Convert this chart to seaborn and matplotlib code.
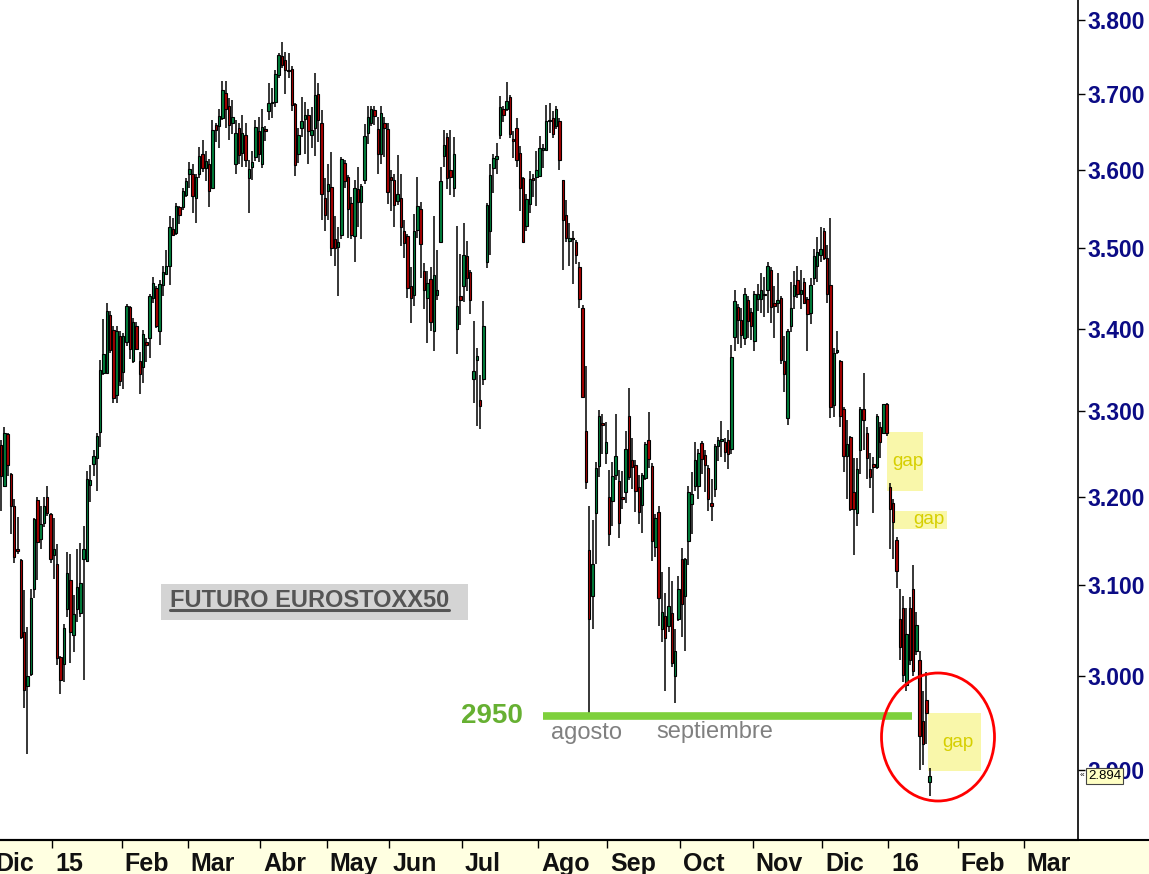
import numpy as np
import pandas as pd
import matplotlib
matplotlib.use("Agg")
import matplotlib.pyplot as plt
import matplotlib.transforms as mtransforms
from matplotlib.patches import Rectangle, Ellipse
from matplotlib.lines import Line2D
from matplotlib.ticker import FixedLocator, NullLocator, FuncFormatter
import seaborn as sns

sns.set_theme(style="white")
plt.rcParams['font.family'] = ['Liberation Sans', 'DejaVu Sans']

# daily candles, Dec 2014 -> Jan 2016
opens = [3260, 3213, 3273, 3226, 3190, 3140, 3128, 3048, 2989, 3002,
         3095, 3196, 3152, 3170, 3200, 3180, 3134, 3124, 3021, 3013,
         3073, 3106, 3045, 3073, 3069, 3129, 3127, 3214, 3238, 3245,
         3276, 3346, 3346, 3417, 3398, 3319, 3391, 3347, 3383, 3426,
         3361, 3403, 3361, 3353, 3384, 3388, 3438, 3450, 3397, 3454,
         3467, 3477, 3524, 3519, 3552, 3552, 3567, 3594, 3595, 3563,
         3595, 3621, 3602, 3607, 3577, 3658, 3657, 3668, 3701, 3684,
         3661, 3608, 3655, 3622, 3646, 3589, 3603, 3616, 3651, 3608,
         3653, 3677, 3687, 3689, 3725, 3750, 3745, 3731, 3733, 3686,
         3620, 3655, 3667, 3672, 3645, 3655, 3700, 3661, 3564, 3573,
         3578, 3512, 3501, 3517, 3609, 3591, 3557, 3515, 3575, 3559,
         3587, 3648, 3661, 3679, 3653, 3621, 3661, 3653, 3591, 3587,
         3560, 3564, 3522, 3515, 3452, 3441, 3523, 3550, 3471, 3438,
         3461, 3397, 3441, 3507, 3618, 3643, 3600, 3577, 3400, 3440,
         3452, 3490, 3470, 3339, 3362, 3313, 3339, 3483, 3521, 3602,
         3614, 3646, 3680, 3680, 3696, 3639, 3654, 3622, 3590, 3528,
         3556, 3589, 3591, 3592, 3626, 3626, 3664, 3668, 3657, 3664,
         3587, 3542, 3509, 3512, 3507, 3476, 3425, 3277, 3139, 3088,
         3181, 3236, 3286, 3251, 3200, 3195, 3225, 3218, 3199, 3206,
         3295, 3243, 3237, 3211, 3191, 3222, 3266, 3236, 3143, 3183,
         3051, 3066, 3055, 3069, 3000, 3062, 3129, 3088, 3150, 3192,
         3213, 3213, 3263, 3249, 3233, 3193, 3209, 3259, 3265, 3264,
         3266, 3256, 3390, 3426, 3410, 3388, 3435, 3420, 3385, 3436,
         3436, 3442, 3447, 3473, 3431, 3431, 3438, 3360, 3292, 3403,
         3440, 3460, 3442, 3457, 3436, 3419, 3462, 3477, 3491, 3521,
         3487, 3454, 3308, 3371, 3360, 3303, 3247, 3270, 3206, 3181,
         3255, 3303, 3275, 3232, 3238, 3234, 3281, 3275, 3309, 3211,
         3193, 3151, 3062, 3074, 2990, 3074, 3095, 3027, 3017, 2952,
         2974, 2888]
highs = [3266, 3282, 3275, 3228, 3198, 3177, 3129, 3094, 3053, 3096,
         3176, 3200, 3190, 3200, 3213, 3182, 3176, 3146, 3022, 3057,
         3137, 3135, 3089, 3141, 3147, 3167, 3230, 3237, 3254, 3275,
         3362, 3412, 3431, 3421, 3403, 3403, 3397, 3394, 3430, 3428,
         3413, 3408, 3371, 3398, 3389, 3442, 3464, 3452, 3460, 3478,
         3497, 3541, 3538, 3557, 3554, 3576, 3590, 3610, 3607, 3594,
         3630, 3639, 3624, 3614, 3665, 3661, 3680, 3717, 3717, 3694,
         3692, 3665, 3661, 3672, 3661, 3613, 3625, 3665, 3669, 3680,
         3657, 3714, 3708, 3732, 3754, 3770, 3756, 3754, 3737, 3688,
         3655, 3695, 3689, 3680, 3682, 3728, 3714, 3679, 3590, 3607,
         3623, 3541, 3526, 3617, 3613, 3593, 3565, 3587, 3604, 3582,
         3660, 3684, 3684, 3683, 3669, 3684, 3669, 3661, 3600, 3595,
         3619, 3594, 3535, 3518, 3476, 3543, 3591, 3559, 3481, 3471,
         3476, 3541, 3497, 3604, 3652, 3648, 3652, 3643, 3528, 3492,
         3532, 3509, 3472, 3409, 3376, 3343, 3434, 3557, 3608, 3620,
         3635, 3697, 3684, 3715, 3698, 3651, 3668, 3631, 3591, 3569,
         3599, 3594, 3625, 3644, 3634, 3685, 3687, 3677, 3683, 3668,
         3587, 3561, 3532, 3521, 3510, 3482, 3429, 3354, 3190, 3173,
         3240, 3302, 3297, 3288, 3231, 3240, 3297, 3231, 3230, 3277,
         3328, 3269, 3243, 3225, 3228, 3264, 3299, 3239, 3180, 3190,
         3115, 3091, 3120, 3104, 3051, 3110, 3142, 3130, 3213, 3229,
         3264, 3256, 3265, 3254, 3237, 3221, 3261, 3270, 3289, 3269,
         3278, 3380, 3448, 3430, 3425, 3450, 3440, 3425, 3446, 3455,
         3469, 3464, 3483, 3476, 3452, 3469, 3440, 3391, 3400, 3458,
         3471, 3478, 3473, 3462, 3439, 3462, 3499, 3514, 3527, 3525,
         3504, 3538, 3376, 3397, 3362, 3305, 3290, 3271, 3245, 3245,
         3305, 3346, 3281, 3251, 3246, 3297, 3287, 3309, 3310, 3216,
         3197, 3154, 3095, 3088, 3074, 3087, 3122, 3070, 3027, 2984,
         3004, 2902]
lows = [3184, 3211, 3224, 3158, 3125, 3135, 3040, 2966, 2917, 3000,
        3085, 3106, 3140, 3165, 3178, 3125, 3107, 3012, 2981, 2994,
        3065, 3014, 3026, 3059, 3065, 2996, 3126, 3194, 3224, 3207,
        3258, 3344, 3345, 3370, 3310, 3310, 3330, 3327, 3379, 3363,
        3358, 3374, 3321, 3334, 3359, 3364, 3431, 3401, 3380, 3440,
        3467, 3454, 3515, 3517, 3531, 3548, 3565, 3577, 3545, 3532,
        3590, 3597, 3586, 3552, 3577, 3636, 3628, 3665, 3655, 3639,
        3647, 3595, 3608, 3604, 3603, 3545, 3587, 3612, 3610, 3602,
        3638, 3665, 3668, 3682, 3721, 3734, 3700, 3721, 3677, 3592,
        3609, 3643, 3621, 3607, 3628, 3618, 3636, 3535, 3521, 3535,
        3490, 3478, 3440, 3512, 3577, 3513, 3511, 3482, 3527, 3511,
        3581, 3634, 3657, 3658, 3595, 3608, 3617, 3556, 3547, 3526,
        3555, 3503, 3488, 3437, 3407, 3428, 3513, 3463, 3424, 3382,
        3397, 3373, 3435, 3507, 3603, 3575, 3568, 3565, 3369, 3404,
        3432, 3446, 3418, 3310, 3283, 3279, 3332, 3475, 3491, 3570,
        3595, 3640, 3663, 3677, 3642, 3615, 3604, 3547, 3508, 3521,
        3544, 3565, 3554, 3592, 3602, 3626, 3648, 3642, 3653, 3600,
        3472, 3507, 3478, 3455, 3480, 3425, 3316, 3209, 2955, 3051,
        3123, 3223, 3250, 3238, 3144, 3167, 3219, 3153, 3186, 3193,
        3219, 3209, 3183, 3169, 3159, 3219, 3233, 3127, 3131, 3055,
        3037, 2984, 3048, 3010, 2971, 3060, 3043, 3027, 3122, 3158,
        3207, 3197, 3227, 3206, 3184, 3172, 3200, 3241, 3246, 3240,
        3232, 3250, 3373, 3381, 3376, 3380, 3388, 3386, 3373, 3421,
        3419, 3414, 3419, 3407, 3389, 3419, 3357, 3323, 3284, 3396,
        3424, 3437, 3424, 3430, 3372, 3405, 3454, 3457, 3483, 3485,
        3431, 3292, 3293, 3369, 3281, 3229, 3197, 3184, 3134, 3167,
        3227, 3254, 3221, 3210, 3182, 3232, 3245, 3273, 3271, 3140,
        3129, 3097, 3017, 2994, 2984, 3012, 3000, 3023, 2900, 2905,
        2927, 2873]
closes = [3224, 3274, 3237, 3190, 3131, 3138, 3042, 2985, 3000, 3086,
          3174, 3148, 3169, 3190, 3182, 3129, 3140, 3020, 2996, 3052,
          3113, 3048, 3068, 3098, 3102, 3141, 3221, 3220, 3247, 3271,
          3350, 3369, 3421, 3374, 3316, 3397, 3336, 3391, 3428, 3375,
          3408, 3375, 3345, 3393, 3380, 3440, 3456, 3403, 3455, 3470,
          3478, 3527, 3517, 3553, 3542, 3572, 3586, 3601, 3566, 3591,
          3618, 3602, 3612, 3572, 3652, 3652, 3671, 3705, 3680, 3658,
          3669, 3648, 3619, 3648, 3613, 3601, 3610, 3656, 3621, 3656,
          3651, 3687, 3688, 3727, 3752, 3739, 3732, 3730, 3685, 3606,
          3645, 3664, 3672, 3650, 3652, 3698, 3665, 3569, 3542, 3582,
          3500, 3500, 3508, 3614, 3586, 3550, 3516, 3577, 3558, 3579,
          3644, 3669, 3680, 3671, 3621, 3675, 3654, 3571, 3587, 3555,
          3569, 3526, 3506, 3450, 3437, 3522, 3553, 3505, 3447, 3456,
          3408, 3466, 3447, 3585, 3632, 3590, 3591, 3620, 3428, 3435,
          3491, 3462, 3435, 3348, 3366, 3306, 3403, 3555, 3593, 3615,
          3618, 3682, 3672, 3690, 3647, 3638, 3613, 3577, 3508, 3562,
          3588, 3587, 3600, 3628, 3628, 3664, 3665, 3647, 3680, 3613,
          3535, 3513, 3513, 3511, 3491, 3436, 3317, 3217, 3062, 3124,
          3233, 3295, 3284, 3264, 3158, 3224, 3248, 3170, 3198, 3256,
          3223, 3235, 3207, 3183, 3225, 3262, 3244, 3150, 3176, 3086,
          3070, 3041, 3077, 3014, 3027, 3096, 3079, 3129, 3206, 3203,
          3243, 3251, 3244, 3237, 3198, 3189, 3259, 3266, 3267, 3252,
          3250, 3365, 3434, 3411, 3392, 3442, 3409, 3403, 3442, 3442,
          3448, 3441, 3478, 3426, 3428, 3435, 3362, 3345, 3397, 3425,
          3454, 3442, 3447, 3431, 3418, 3454, 3490, 3495, 3499, 3487,
          3443, 3305, 3370, 3374, 3294, 3247, 3261, 3186, 3186, 3232,
          3303, 3290, 3245, 3223, 3234, 3294, 3264, 3309, 3274, 3186,
          3171, 3116, 3032, 3001, 3046, 3017, 3006, 3056, 2936, 2928,
          2960, 2894]

month_labels = ['Dic', '15', 'Feb', 'Mar', 'Abr', 'May', 'Jun', 'Jul', 'Ago',
                'Sep', 'Oct', 'Nov', 'Dic', '16', 'Feb', 'Mar']
month_first_bar = [-2, 16, 37, 57, 79, 99, 118, 140, 163, 184, 206, 228,
                   249, 269, 290, 310]
price_ticks = [2900, 3000, 3100, 3200, 3300, 3400, 3500, 3600, 3700, 3800]

support_level = 2957
support_bars = [164, 275.6]

gap_left = [268.1, 269.9, 280.5]
gap_right = [279.0, 286.2, 296.5]
gap_low = [3207, 3163, 2899]
gap_high = [3276, 3184, 2960]
gap_text_x = [274.4, 280.8, 289.6]

df = pd.DataFrame({'open': opens, 'high': highs, 'low': lows, 'close': closes})
df['bar'] = np.arange(len(df))
up = df['close'] >= df['open']

W, H = 1149, 874
fig = plt.figure(figsize=(W / 100, H / 100), dpi=100)
fig.patch.set_facecolor('white')
fig.add_artist(Rectangle((0, 0), 1, 33 / H, transform=fig.transFigure,
                         facecolor='#FFFFE1', edgecolor='none', zorder=0))
ax = fig.add_axes([0, 34 / H, 1078 / W, 840 / H])
ax.set_facecolor('white')
ax.set_yscale('log')

# candles
ax.vlines(df['bar'], df['low'], df['high'], color='black', lw=1.1, zorder=2)
body_lo = np.minimum(df['open'], df['close'])
body_h = np.maximum(np.abs(df['close'] - df['open']), 1.5)
ax.bar(df['bar'], body_h, bottom=body_lo, width=0.74,
       color=np.where(up, '#00803C', '#A80000'), edgecolor='black',
       linewidth=0.8, zorder=3)

# support line at the August low
sup = pd.DataFrame({'bar': support_bars, 'price': [support_level] * 2})
sns.lineplot(data=sup, x='bar', y='price', color='#7ED03C', lw=5.5,
             solid_capstyle='butt', ax=ax, zorder=4)
ax.text(157.9, support_level, '2950', ha='right', va='center', fontsize=20,
        fontweight='bold', color='#66B032')
ax.text(166.4, 2939, 'agosto', ha='left', va='center', fontsize=17, color='#808080')
ax.text(198.2, 2940, 'septiembre', ha='left', va='center', fontsize=17, color='#808080')

# gap boxes
for l, r, lo, hi, tx in zip(gap_left, gap_right, gap_low, gap_high, gap_text_x):
    ax.add_patch(Rectangle((l, lo), r - l, hi - lo, facecolor='#F9F7AA',
                           edgecolor='none', zorder=1))
    ax.text(tx, np.sqrt(lo * hi), 'gap', ha='center', va='center',
            fontsize=13.5, color='#D6CF00', zorder=5)

# title box
ax.add_patch(Rectangle((48.4, 3061), 92.9, 40, facecolor='#D4D4D4',
                       edgecolor='none', zorder=1))
title = ax.text(51.1, 3083, 'FUTURO EUROSTOXX50', ha='left', va='center',
                fontsize=17, fontweight='bold', color='#555555', zorder=5)

# axes formatting
ax.set_xlabel('')
ax.set_ylabel('')
ax.yaxis.tick_right()
ax.yaxis.set_major_locator(FixedLocator(price_ticks))
ax.yaxis.set_minor_locator(NullLocator())
ax.yaxis.set_major_formatter(FuncFormatter(lambda v, p: f"{v / 1000:.3f}"))
ax.tick_params(axis='y', which='major', right=True, left=False, length=5,
               width=1, color='black', direction='out', pad=2,
               labelsize=16.5, labelcolor='#0B0B85')
for lab in ax.get_yticklabels():
    lab.set_fontweight('bold')
ax.set_xticks([b - 0.5 for b in month_first_bar])
ax.tick_params(axis='x', which='major', bottom=True, length=6, width=1,
               color='black', direction='out', labelbottom=False)
# limits after set_xticks (which widens the view)
ax.set_xlim(-0.3, 325.9)
ax.set_ylim(2828, 3827)
ax.grid(False)
for s in ['top', 'left']:
    ax.spines[s].set_visible(False)
ax.spines['right'].set_color('black')
ax.spines['right'].set_linewidth(1.2)
ax.spines['bottom'].set_color('black')
ax.spines['bottom'].set_linewidth(1.5)
fig.add_artist(Line2D([0, 1], [34 / H, 34 / H], transform=fig.transFigure,
                      color='black', lw=1.5))

# month labels, left-aligned just right of each tick
lab_tr = (mtransforms.blended_transform_factory(ax.transData, fig.transFigure)
          + mtransforms.ScaledTranslation(3 / 100, 0, fig.dpi_scale_trans))
for b, lab in zip(month_first_bar, month_labels):
    ax.text(b - 0.5, 3 / H, lab, transform=lab_tr, ha='left', va='baseline',
            fontsize=18, fontweight='bold', color='#111111', clip_on=False)

# last price marker
tr = mtransforms.blended_transform_factory(fig.transFigure, ax.transData)
fig.text(1088 / W, closes[-1], f"{closes[-1] / 1000:.3f}", transform=tr,
         ha='left', va='center', fontsize=9.5, color='black', zorder=10,
         bbox=dict(boxstyle='square,pad=0.12', fc='#FFFFC4', ec='#444444', lw=0.8))
fig.text(1080 / W, closes[-1], '\u00ab', transform=tr, ha='left', va='center',
         fontsize=6, color='black', zorder=10)

# red circle around the last gap
fig.add_artist(Ellipse((938 / W, 1 - 737 / H), 113 / W, 128 / H,
                       transform=fig.transFigure, fill=False,
                       edgecolor='#FF0000', lw=2, zorder=6))

# underline the title
fig.canvas.draw()
bb = title.get_window_extent()
fig.add_artist(Line2D([bb.x0, bb.x1], [bb.y0 + 2, bb.y0 + 2],
                      transform=mtransforms.IdentityTransform(),
                      color='#555555', lw=2.2))

fig.savefig('out.png', dpi=100)
